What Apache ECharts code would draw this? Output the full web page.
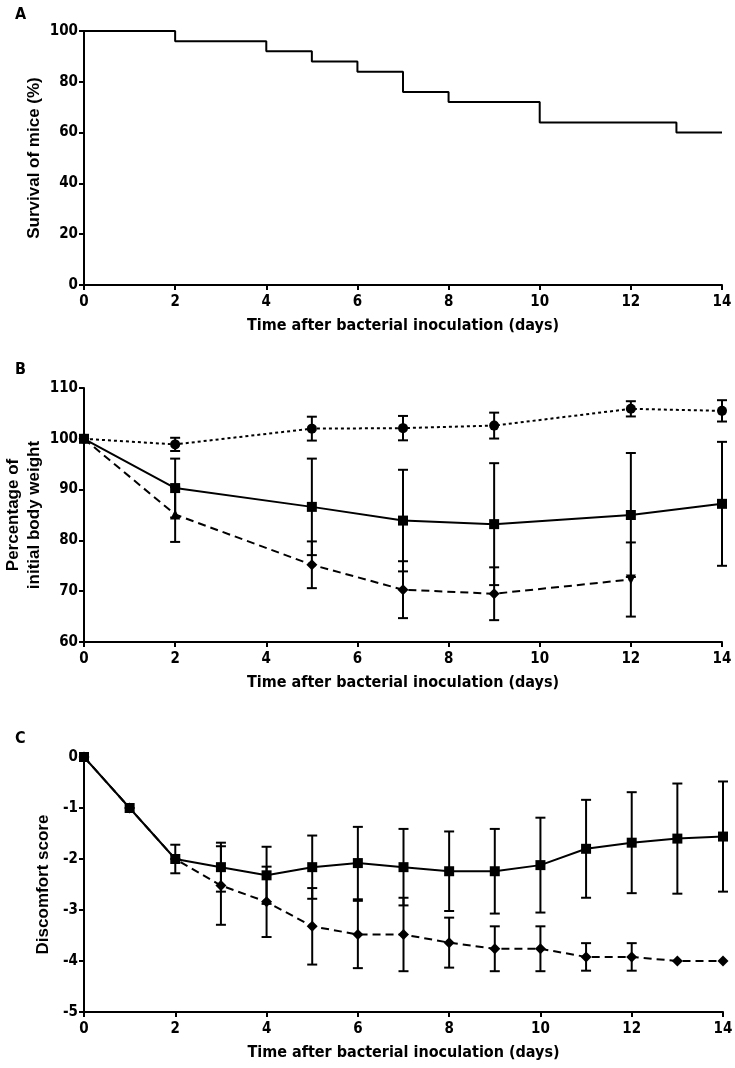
<!DOCTYPE html>
<html>
<head>
<meta charset="utf-8">
<script src="https://cdn.jsdelivr.net/npm/echarts@6/dist/echarts.min.js"></script>
<style>html,body{margin:0;padding:0;background:#fff}#c{width:735px;height:1068px}</style>
</head>
<body>
<div id="c"></div>
<script>
// ---- Panel A: survival ----
const daysA = [0, 2, 4, 5, 6, 7, 8, 10, 13, 14];
const survivalA = [100, 96, 92, 88, 84, 76, 72, 64, 60, 60];

// ---- Panel B: body weight ----
const daysB = [0, 2, 5, 7, 9, 12, 14];
const bCircle = [100, 98.9, 102.0, 102.1, 102.6, 105.9, 105.5];
const bCircleErr = [0, 1.3, 2.35, 2.4, 2.55, 1.5, 2.1];
const bSquare = [100, 90.3, 86.6, 83.9, 83.2, 85.0, 87.2];
const bSquareErr = [0, 5.8, 9.5, 10.0, 12.0, 12.2, 12.2];
const daysBDead = [0, 2, 5, 7, 9, 12];
const bDiamond = [100, 85.1, 75.2, 70.3, 69.5, 72.3];
const bDiamondErr = [0, 5.4, 4.6, 5.6, 5.2, 7.3];
const bDiamondSymbols = ['diamond', 'triangle', 'diamond', 'diamond', 'diamond', 'triangleDown'];

// ---- Panel C: discomfort score ----
const daysC = [0, 1, 2, 3, 4, 5, 6, 7, 8, 9, 10, 11, 12, 13, 14];
const cSquare = [0, -1, -2, -2.16, -2.32, -2.16, -2.08, -2.16, -2.24, -2.24, -2.12, -1.80, -1.68, -1.60, -1.56];
const cSquareErr = [0, 0, 0.28, 0.48, 0.56, 0.62, 0.71, 0.75, 0.78, 0.83, 0.93, 0.96, 0.99, 1.08, 1.08];
const cDiamond = [0, -1, -2, -2.52, -2.84, -3.32, -3.48, -3.48, -3.64, -3.76, -3.76, -3.92, -3.92, -4, -4];
const cDiamondErr = [0, 0, 0, 0.77, 0.69, 0.75, 0.66, 0.72, 0.49, 0.44, 0.44, 0.27, 0.27, 0, 0];

const xTitle = 'Time after bacterial inoculation (days)';
const NARROW = "'Liberation Sans Narrow', 'DejaVu Sans Condensed', 'Arial Narrow', sans-serif";
const WIDE = "'Liberation Sans', Arial, sans-serif";

const zip = (xs, ys) => xs.map((x, i) => [x, ys[i]]);
const zip3 = (xs, ys, es) => xs.map((x, i) => [x, ys[i], es[i]]);

function errRender(params, api) {
  const x = api.value(0), y = api.value(1), e = api.value(2);
  if (!e) return null;
  const top = api.coord([x, y + e]);
  const bot = api.coord([x, y - e]);
  const w = 5;
  const st = { stroke: '#000', lineWidth: 2 };
  return {
    type: 'group',
    children: [
      { type: 'line', shape: { x1: top[0], y1: top[1], x2: bot[0], y2: bot[1] }, style: st },
      { type: 'line', shape: { x1: top[0] - w, y1: top[1], x2: top[0] + w, y2: top[1] }, style: st },
      { type: 'line', shape: { x1: bot[0] - w, y1: bot[1], x2: bot[0] + w, y2: bot[1] }, style: st }
    ]
  };
}

const axisCommon = {
  axisLine: { show: true, onZero: false, lineStyle: { color: '#000', width: 2 } },
  axisTick: { show: true, inside: false, length: 5, lineStyle: { color: '#000', width: 2 } },
  splitLine: { show: false },
  nameMoveOverlap: false,
  axisLabel: { color: '#000', fontFamily: NARROW, fontWeight: 'bold', fontSize: 15 }
};

function xAx(idx) {
  return Object.assign({}, axisCommon, {
    type: 'value', gridIndex: idx, min: 0, max: 14, interval: 2,
    name: xTitle, nameLocation: 'middle', nameGap: 33,
    nameTextStyle: { color: '#000', fontFamily: NARROW, fontWeight: 'bold', fontSize: 16 },
    axisLabel: Object.assign({}, axisCommon.axisLabel, { margin: 10 })
  });
}
function yAx(idx, min, max, interval, name, gap) {
  return Object.assign({}, axisCommon, {
    type: 'value', gridIndex: idx, min: min, max: max, interval: interval,
    name: name, nameLocation: 'middle', nameGap: gap, nameRotate: 90,
    nameTextStyle: { color: '#000', fontFamily: WIDE, fontWeight: 'bold', fontSize: 17, lineHeight: 21 },
    axisLabel: Object.assign({}, axisCommon.axisLabel, { margin: 6 })
  });
}

const markerStyle = { color: '#000' };

const option = {
  animation: false,
  backgroundColor: '#fff',
  title: [
    { text: 'A', left: 10, top: 2, textStyle: { fontFamily: NARROW, fontWeight: 'bold', fontSize: 16, color: '#000' } },
    { text: 'B', left: 10, top: 357, textStyle: { fontFamily: NARROW, fontWeight: 'bold', fontSize: 16, color: '#000' } },
    { text: 'C', left: 10, top: 726, textStyle: { fontFamily: NARROW, fontWeight: 'bold', fontSize: 16, color: '#000' } }
  ],
  grid: [
    { left: 84, right: 13, top: 31, height: 254, containLabel: false, outerBoundsMode: 'none' },
    { left: 84, right: 13, top: 388, height: 254, containLabel: false, outerBoundsMode: 'none' },
    { left: 84, right: 12, top: 757, height: 255, containLabel: false, outerBoundsMode: 'none' }
  ],
  xAxis: [xAx(0), xAx(1), xAx(2)],
  yAxis: [
    yAx(0, 0, 100, 20, 'Survival of mice (%)', 39),
    yAx(1, 60, 110, 10, 'Percentage of\ninitial body weight', 39),
    yAx(2, -5, 0, 1, 'Discomfort score', 30)
  ],
  series: [
    {
      type: 'line', xAxisIndex: 0, yAxisIndex: 0, step: 'end',
      data: zip(daysA, survivalA), showSymbol: false,
      lineStyle: { color: '#000', width: 2 }
    },
    // Panel B error bars
    { type: 'custom', xAxisIndex: 1, yAxisIndex: 1, renderItem: errRender, data: zip3(daysB, bCircle, bCircleErr), z: 1 },
    { type: 'custom', xAxisIndex: 1, yAxisIndex: 1, renderItem: errRender, data: zip3(daysB, bSquare, bSquareErr), z: 1 },
    { type: 'custom', xAxisIndex: 1, yAxisIndex: 1, renderItem: errRender, data: zip3(daysBDead, bDiamond, bDiamondErr), z: 1 },
    {
      type: 'line', xAxisIndex: 1, yAxisIndex: 1, data: zip(daysB, bCircle),
      symbol: 'circle', symbolSize: 10, itemStyle: markerStyle,
      lineStyle: { color: '#000', width: 2, type: [3, 3] }, z: 3
    },
    {
      type: 'line', xAxisIndex: 1, yAxisIndex: 1,
      data: daysBDead.map((d, i) => ({
        value: [d, bDiamond[i]],
        symbol: bDiamondSymbols[i] === 'triangleDown' ? 'triangle' : bDiamondSymbols[i],
        symbolRotate: bDiamondSymbols[i] === 'triangleDown' ? 180 : 0,
        symbolSize: bDiamondSymbols[i] === 'diamond' ? 11 : 10
      })),
      itemStyle: markerStyle,
      lineStyle: { color: '#000', width: 2, type: [8, 5] }, z: 3
    },
    {
      type: 'line', xAxisIndex: 1, yAxisIndex: 1, data: zip(daysB, bSquare),
      symbol: 'rect', symbolSize: 10, itemStyle: markerStyle,
      lineStyle: { color: '#000', width: 2 }, z: 4
    },
    // Panel C error bars
    { type: 'custom', xAxisIndex: 2, yAxisIndex: 2, renderItem: errRender, data: zip3(daysC, cSquare, cSquareErr), z: 1 },
    { type: 'custom', xAxisIndex: 2, yAxisIndex: 2, renderItem: errRender, data: zip3(daysC, cDiamond, cDiamondErr), z: 1 },
    {
      type: 'line', xAxisIndex: 2, yAxisIndex: 2, data: zip(daysC, cDiamond),
      symbol: 'diamond', symbolSize: 11, itemStyle: markerStyle,
      lineStyle: { color: '#000', width: 2, type: [8, 5] }, z: 3
    },
    {
      type: 'line', xAxisIndex: 2, yAxisIndex: 2, data: zip(daysC, cSquare),
      symbol: 'rect', symbolSize: 10, itemStyle: markerStyle,
      lineStyle: { color: '#000', width: 2 }, z: 4
    }
  ]
};

const chart = echarts.init(document.getElementById('c'), null, { renderer: 'canvas' });
chart.setOption(option);
</script>
</body>
</html>
